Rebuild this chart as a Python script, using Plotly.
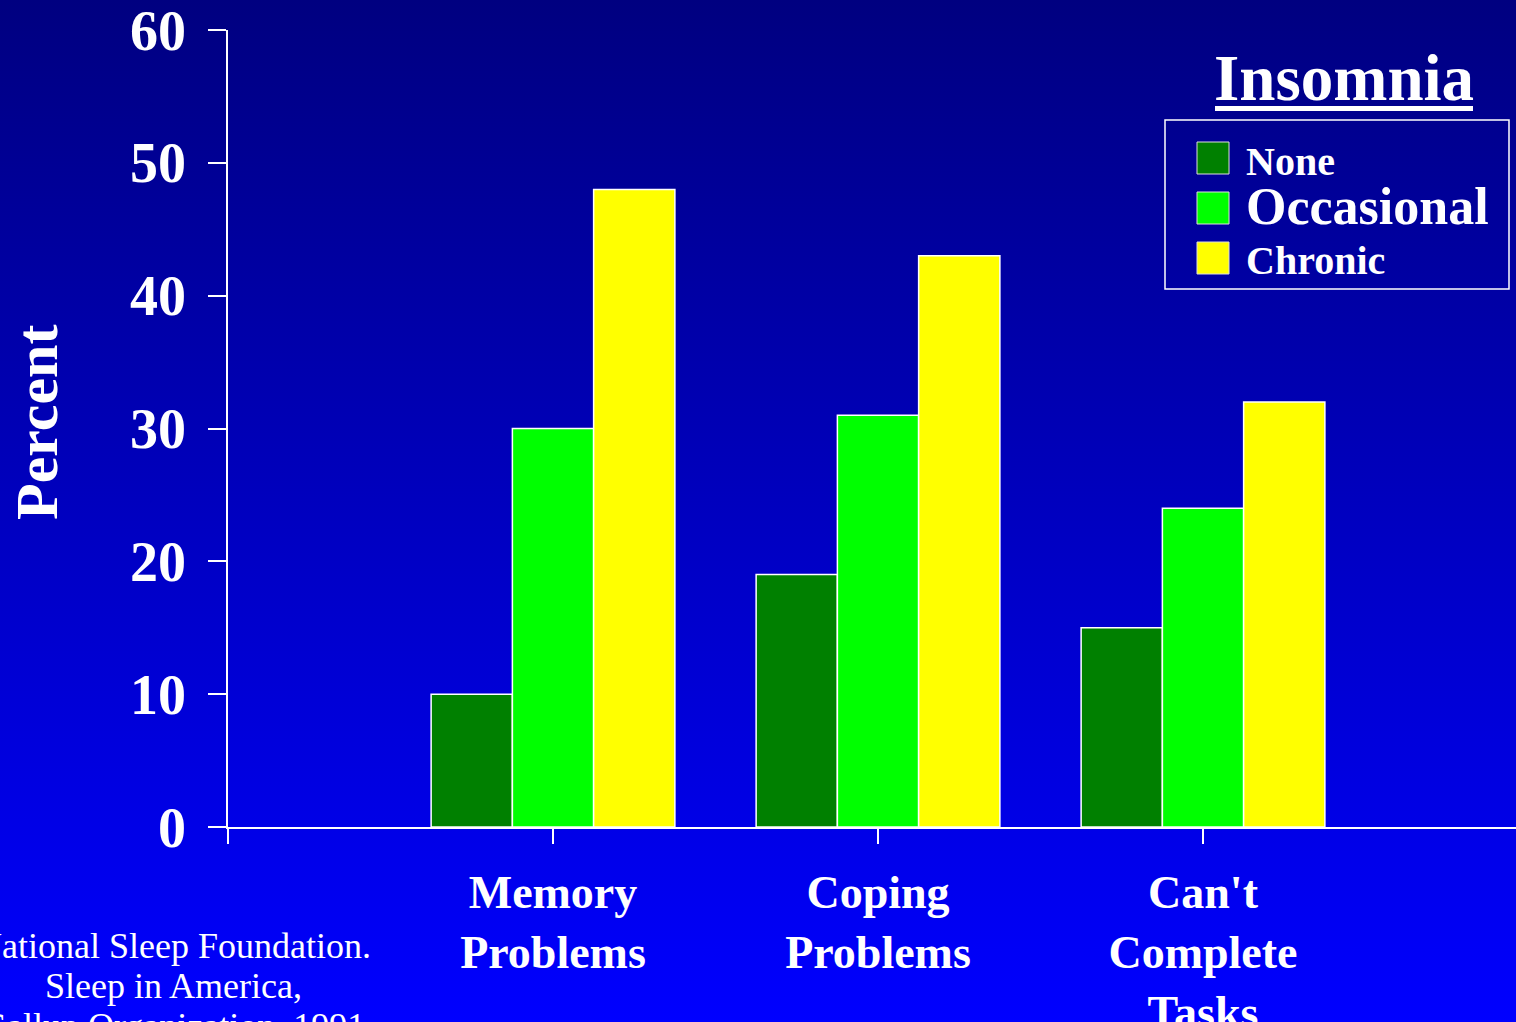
import base64
import plotly.graph_objects as go

# Survey data: share of respondents reporting each daytime problem
categories = ["Memory<br>Problems", "Coping<br>Problems", "Can't<br>Complete<br>Tasks"]
series_names = ["None", "Occasional", "Chronic"]
none_vals = [10, 19, 15]
occasional_vals = [30, 31, 24]
chronic_vals = [48, 43, 32]
y_ticks = [0, 10, 20, 30, 40, 50, 60]
source_lines = ["National Sleep Foundation.", "Sleep in America,", "Gallup Organization, 1991"]

colors = ["#008000", "#00FF00", "#FFFF00"]
values = [none_vals, occasional_vals, chronic_vals]

W, H = 1516, 1022
L, R, T, B = 228, 0, 30, 195
PW, PH = W - L - R, H - T - B
FONT = "Liberation Serif, Times New Roman, serif"


def px(x):
    return (x - L) / PW


def py(y):
    return (H - B - y) / PH


# category slots: index 0 is the empty slot at the axis origin
positions = [i + 1 for i in range(len(categories))]

fig = go.Figure()
for name, vals, col in zip(series_names, values, colors):
    fig.add_trace(go.Bar(
        x=positions, y=vals, name=name,
        marker=dict(color=col, line=dict(color="white", width=1.5)),
        showlegend=False,
    ))

# vertical gradient backdrop
svg = (
    '<svg xmlns="http://www.w3.org/2000/svg" width="100" height="100" preserveAspectRatio="none">'
    '<defs><linearGradient id="g" x1="0" y1="0" x2="0" y2="1">'
    '<stop offset="0" stop-color="#000080"/><stop offset="1" stop-color="#0000FF"/>'
    '</linearGradient></defs><rect width="100" height="100" fill="url(#g)"/></svg>'
)
bg_uri = "data:image/svg+xml;base64," + base64.b64encode(svg.encode()).decode()

shapes = []
annotations = []

# legend box
shapes.append(dict(type="rect", xref="paper", yref="paper",
                   x0=px(1165), x1=px(1509), y0=py(289), y1=py(120),
                   line=dict(color="white", width=1.5), fillcolor="rgba(0,0,0,0)"))
swatch_tops = [142, 192, 242]
label_mids = [161, 207, 260]
label_sizes = [40, 52, 40]
for name, col, top, mid, fs in zip(series_names, colors, swatch_tops, label_mids, label_sizes):
    shapes.append(dict(type="rect", xref="paper", yref="paper",
                       x0=px(1197), x1=px(1229), y0=py(top + 32), y1=py(top),
                       line=dict(color="#DDDDDD", width=1), fillcolor=col))
    annotations.append(dict(text="<b>%s</b>" % name, xref="paper", yref="paper",
                            x=px(1244), y=py(mid), xanchor="left", yanchor="middle",
                            showarrow=False, font=dict(family=FONT, size=fs, color="white")))

# legend heading with underline
annotations.append(dict(text="<b>Insomnia</b>", xref="paper", yref="paper",
                        x=px(1344), y=py(78), xanchor="center", yanchor="middle",
                        showarrow=False, font=dict(family=FONT, size=65, color="white")))
shapes.append(dict(type="line", xref="paper", yref="paper",
                   x0=px(1215), x1=px(1473), y0=py(108.5), y1=py(108.5),
                   line=dict(color="white", width=5)))

# y-axis title
annotations.append(dict(text="<b>Percent</b>", xref="paper", yref="paper",
                        x=px(37), y=py(423), xanchor="center", yanchor="middle",
                        textangle=-90, showarrow=False,
                        font=dict(family=FONT, size=60, color="white")))

# source note
for line, mid in zip(source_lines, [946, 986, 1026]):
    annotations.append(dict(text=line, xref="paper", yref="paper",
                            x=px(173), y=py(mid), xanchor="center", yanchor="middle",
                            showarrow=False,
                            font=dict(family=FONT, size=36, color="white")))

fig.update_layout(
    width=W, height=H,
    margin=dict(l=L, r=R, t=T, b=B, pad=0, autoexpand=False),
    paper_bgcolor="#0000C0",
    plot_bgcolor="rgba(0,0,0,0)",
    barmode="group", bargap=0.25, bargroupgap=0,
    showlegend=False,
    images=[dict(source=bg_uri, xref="paper", yref="paper",
                 x=px(0), y=py(0), sizex=W / PW, sizey=H / PH,
                 xanchor="left", yanchor="top", sizing="stretch", layer="below")],
    shapes=shapes,
    annotations=annotations,
    xaxis=dict(
        range=[0, PW / 325.0], automargin=False,
        tickmode="array", tickvals=[0] + positions, ticktext=[""] + categories,
        showline=True, linecolor="white", linewidth=1.5,
        ticks="outside", ticklen=15, tickwidth=1.5, tickcolor="white",
        showgrid=False, zeroline=False,
        tickfont=dict(family=FONT, size=46, color="white", weight="bold"),
        ticklabelstandoff=9, ticklabeloverflow="allow",
    ),
    yaxis=dict(
        range=[0, 60], automargin=False, tickmode="array", tickvals=y_ticks,
        ticktext=["<b>%d</b>" % v for v in y_ticks],
        showline=True, linecolor="white", linewidth=1.5,
        ticks="outside", ticklen=18, tickwidth=1.5, tickcolor="white",
        showgrid=False, zeroline=False,
        tickfont=dict(family=FONT, size=56, color="white"),
        ticklabelstandoff=11, ticklabeloverflow="allow",
    ),
)

fig.write_html("out.html")
